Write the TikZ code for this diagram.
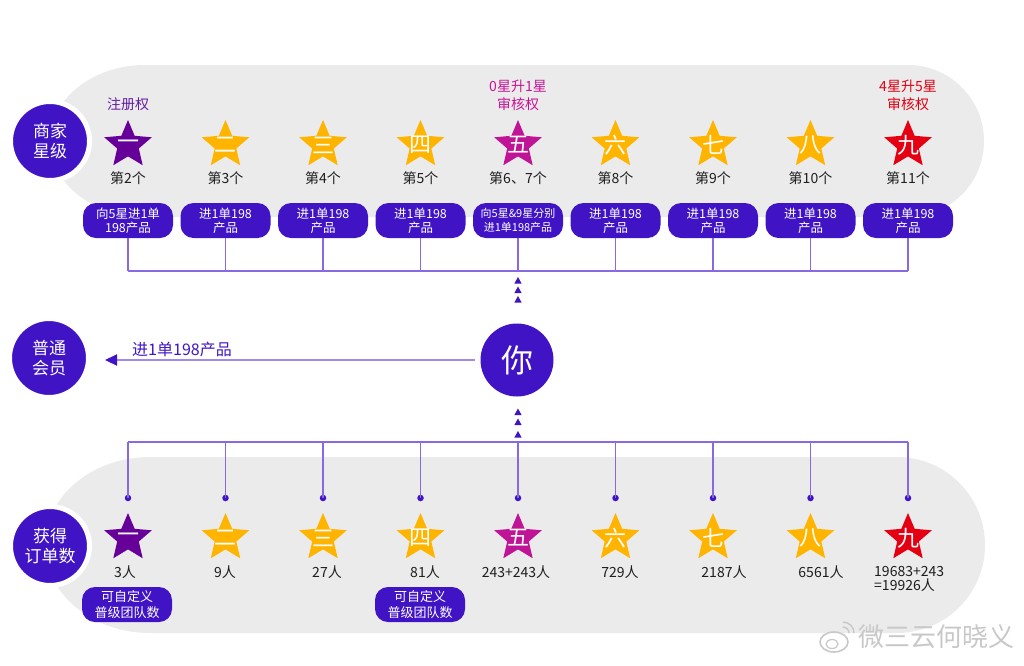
\documentclass[tikz,border=0pt]{standalone}
\usepackage{fontspec}
\setmainfont{Noto Sans CJK SC}
\usetikzlibrary{shapes.geometric,arrows.meta}
\definecolor{dpurple}{RGB}{64,20,196}
\definecolor{conn}{RGB}{135,105,225}
\definecolor{lconn}{RGB}{160,140,232}
\definecolor{spurple}{RGB}{102,0,153}
\definecolor{syellow}{RGB}{255,180,0}
\definecolor{smagenta}{RGB}{192,20,150}
\definecolor{sred}{RGB}{228,0,18}
\definecolor{bandgray}{RGB}{235,235,235}
\definecolor{lpurple}{RGB}{100,30,160}
\definecolor{lmagenta}{RGB}{200,20,150}
\definecolor{lred}{RGB}{225,0,20}
\definecolor{txtdark}{RGB}{30,30,30}
\definecolor{wmgray}{RGB}{200,200,200}
\begin{document}
\begin{tikzpicture}[x=1pt,y=-1pt,
  txt/.style={inner sep=0pt, align=center},
  bigcirc/.style={circle, fill=dpurple, draw=white, line width=5pt, minimum size=79pt, inner sep=0pt,
    text=white, align=center, font=\fontsize{17}{19.5}\selectfont},
  starshape/.style={star, star points=5, star point ratio=2.2, minimum size=50pt, inner sep=0pt, draw=none},
  numtxt/.style={txt, text=white, font=\fontsize{22}{22}\selectfont},
  rowtxt/.style={txt, text=txtdark, font=\fontsize{14}{14}\selectfont},
  pbox/.style={rounded corners=13pt, fill=dpurple, text=white, minimum width=90pt, minimum height=35pt,
    inner sep=0pt, align=center, font=\fontsize{12.5}{14}\selectfont},
  connline/.style={draw=conn, line width=1.5pt},
  dotnode/.style={circle, fill=dpurple, minimum size=6.5pt, inner sep=0pt},
  uptri/.pic={\fill[dpurple] (0,0) -- (3.6,6.5) -- (-3.6,6.5) -- cycle;}
]
\useasboundingbox (0,0) rectangle (1024,665);
% bands
\fill[bandgray] (145,65) -- (908,65) arc[start angle=-90,end angle=90,radius=76]
  -- (145,217) arc[start angle=90,end angle=270,x radius=95,y radius=76] -- cycle;
\fill[bandgray] (150,457) -- (897,457) arc[start angle=-90,end angle=90,radius=88]
  -- (150,633) arc[start angle=90,end angle=270,x radius=105,y radius=88] -- cycle;

% watermark
\draw[wmgray, line width=1.6pt] (834,642) ellipse[x radius=14, y radius=10];
\draw[wmgray, line width=1.2pt] (832,644) ellipse[x radius=6, y radius=4.5];
\draw[wmgray, line width=1.4pt] (843,627) arc[start angle=270,end angle=360,radius=6];
\draw[wmgray, line width=1.4pt] (843,622) arc[start angle=270,end angle=360,radius=11];
\node[txt, text=wmgray, font=\fontsize{26}{26}\selectfont] (wm) at (936,637) {微三云何晓义};

% top labels
\node[txt, text=lpurple, font=\fontsize{14}{14}\selectfont] (lab1) at (128,104) {注册权};
\node[txt, text=lmagenta, font=\fontsize{14}{18}\selectfont] (lab5) at (518,95) {0星升1星\\审核权};
\node[txt, text=lred, font=\fontsize{14}{18}\selectfont] (lab9) at (908,95) {4星升5星\\审核权};

% stars
\foreach \i/\x/\col/\num in {1/128/spurple/一, 2/225.5/syellow/二, 3/323/syellow/三,
    4/420.5/syellow/四, 5/518/smagenta/五, 6/615.5/syellow/六, 7/713/syellow/七,
    8/810.5/syellow/八, 9/908/sred/九}{
  \node[starshape, fill=\col] (ts\i) at (\x,145) {};
  \node[numtxt] (tn\i) at (ts\i.center) {\num};
  \node[starshape, fill=\col] (bs\i) at (\x,538) {};
  \node[numtxt] (bn\i) at (bs\i.center) {\num};
}

% top row texts
\foreach \i/\t in {1/第2个, 2/第3个, 3/第4个, 4/第5个, 5/第6、7个, 6/第8个, 7/第9个, 8/第10个, 9/第11个}{
  \node[rowtxt] (tt\i) at (ts\i.center |- 0,178) {\t};
}

% top boxes
\node[pbox] (tb1) at (ts1.center |- 0,220.5) {向5星进1单\\198产品};
\foreach \i in {2,3,4,6,7,8,9}{
  \node[pbox] (tb\i) at (ts\i.center |- 0,220.5) {进1单198\\产品};
}
\node[pbox, font=\fontsize{11}{13.5}\selectfont] (tb5) at (ts5.center |- 0,220.5) {向5星\&9星分别\\进1单198产品};

% top connectors
\coordinate (htop) at (0,271);
\foreach \i in {1,...,9}{
  \draw[connline] (tb\i.south) -- (tb\i.south |- htop);
}
\draw[connline] (tb1.south |- htop) -- (tb9.south |- htop);

% arrows up
\pic at (518,277) {uptri};
\pic at (518,286.5) {uptri};
\pic at (518,296) {uptri};
\pic at (518,408.5) {uptri};
\pic at (518,418.5) {uptri};
\pic at (518,431) {uptri};

% side circles
\node[bigcirc] (cstar) at (50,141) {商家\\星级};
\node[bigcirc] (cmem) at (49,358) {普通\\会员};
\node[bigcirc] (corder) at (50,546) {获得\\订单数};
\node[circle, fill=dpurple, minimum size=73pt, inner sep=0pt, text=white,
  font=\fontsize{32}{32}\selectfont] (you) at (517,360) {你};

% middle arrow
\draw[draw=lconn, line width=2.2pt, shorten <=5pt, shorten >=14pt,
  -{Triangle[length=12pt,width=11pt,color=dpurple]}]
  (you.west |- 0,360) -- (cmem.east |- 0,360);
\node[txt, text=dpurple, font=\fontsize{16}{16}\selectfont] (midlab) at (182,349) {进1单198产品};

% bottom connectors
\coordinate (hbot) at (0,442);
\foreach \i in {1,...,9}{
  \node[dotnode] (d\i) at (bs\i.center |- 0,498) {};
  \draw[connline] (d\i.center) -- (d\i.center |- hbot);
}
\draw[connline] (d1.center |- hbot) -- (d9.center |- hbot);

% bottom row texts
\node[rowtxt] (bt1) at (125,572) {3人};
\node[rowtxt] (bt2) at (225,572) {9人};
\node[rowtxt] (bt3) at (327,572) {27人};
\node[rowtxt] (bt4) at (425,572) {81人};
\node[rowtxt] (bt5) at (516,572) {243+243人};
\node[rowtxt] (bt6) at (620,572) {729人};
\node[rowtxt] (bt7) at (724,572) {2187人};
\node[rowtxt] (bt8) at (821,572) {6561人};
\node[txt, text=txtdark, font=\fontsize{14}{13.5}\selectfont, align=left, anchor=west] (bt9) at (874,579) {19683+243\\=19926人};

% bottom boxes
\node[pbox, font=\fontsize{13}{16}\selectfont] (bb1) at (127,604.5) {可自定义\\普级团队数};
\node[pbox, font=\fontsize{13}{16}\selectfont] (bb4) at (420,604.5) {可自定义\\普级团队数};
\end{tikzpicture}
\end{document}
